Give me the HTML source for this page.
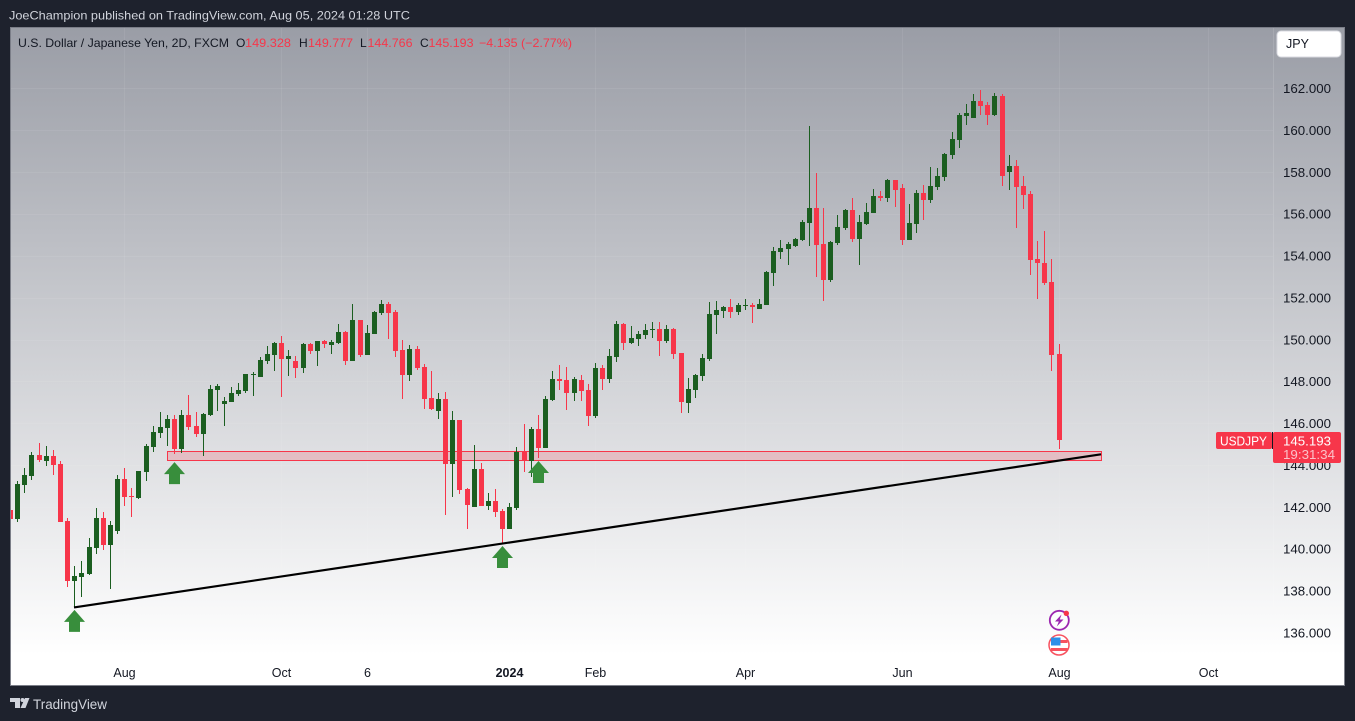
<!DOCTYPE html>
<html lang="en">
<head>
<meta charset="utf-8">
<title>USDJPY chart</title>
<style>
html,body{margin:0;padding:0;background:#1e222d;width:1355px;height:721px;overflow:hidden}
svg{display:block;font-family:"Liberation Sans",sans-serif}
</style>
</head>
<body>
<svg id="chart" xmlns="http://www.w3.org/2000/svg" width="1355" height="721" viewBox="0 0 1355 721">
  <defs>
    <linearGradient id="bg" x1="0" y1="27" x2="0" y2="655" gradientUnits="userSpaceOnUse">
      <stop offset="0" stop-color="#9a9da6"/>
      <stop offset="1" stop-color="#ffffff"/>
    </linearGradient>
    <clipPath id="plot"><rect x="11" y="28" width="1262" height="640"/></clipPath>
  </defs>
  <rect x="0" y="0" width="1355" height="721" fill="#1e222d"/>
  <text x="9" y="19.5" font-size="12" fill="#d1d4dc" textLength="401" lengthAdjust="spacingAndGlyphs">JoeChampion published on TradingView.com, Aug 05, 2024 01:28 UTC</text>
  <rect x="10.5" y="27.5" width="1334" height="658" fill="url(#bg)" stroke="#7b7e88" stroke-width="1"/>
  <g id="grid"></g>
  <line x1="1273.5" y1="28" x2="1273.5" y2="655" stroke="#ffffff" stroke-opacity="0.12"/>
  <g id="zoneLayer" clip-path="url(#plot)"></g>
  <g id="candles" clip-path="url(#plot)"></g>
  <g id="drawings"></g>
  <g id="priceAxis"></g>
  <g id="timeAxis"></g>

  <g font-size="12" fill="#131722">
    <text x="18" y="47" textLength="211" lengthAdjust="spacingAndGlyphs">U.S. Dollar / Japanese Yen, 2D, FXCM</text>
    <text x="236" y="47">O</text>
    <text x="245" y="47" fill="#f7364a" textLength="46" lengthAdjust="spacingAndGlyphs">149.328</text>
    <text x="299" y="47">H</text>
    <text x="308" y="47" fill="#f7364a" textLength="45" lengthAdjust="spacingAndGlyphs">149.777</text>
    <text x="360" y="47">L</text>
    <text x="367.500" y="47" fill="#f7364a" textLength="45" lengthAdjust="spacingAndGlyphs">144.766</text>
    <text x="420" y="47">C</text>
    <text x="428.500" y="47" fill="#f7364a" textLength="45" lengthAdjust="spacingAndGlyphs">145.193</text>
    <text x="479" y="47" fill="#f7364a" textLength="93" lengthAdjust="spacingAndGlyphs">−4.135 (−2.77%)</text>
  </g>

  <g>
    <rect x="1277" y="31" width="64" height="26" rx="4" fill="#ffffff" stroke="#d8dae0" stroke-width="1"/>
    <text x="1286" y="48" font-size="12.500" fill="#131722">JPY</text>
  </g>

  <g>
    <rect x="1216" y="432" width="56" height="17" rx="2" fill="#f7364a"/>
    <text x="1220" y="445.500" font-size="12.500" fill="#ffffff" textLength="47" lengthAdjust="spacingAndGlyphs">USDJPY</text>
    <rect x="1272" y="432" width="1" height="17" fill="#131722"/>
    <rect x="1273" y="432" width="68" height="31" rx="2" fill="#f7364a"/>
    <text x="1283" y="445.500" font-size="13" fill="#ffffff" textLength="48" lengthAdjust="spacingAndGlyphs">145.193</text>
    <text x="1283" y="459" font-size="13" fill="#fbc1c8" textLength="52" lengthAdjust="spacingAndGlyphs">19:31:34</text>
  </g>

  <g>
    <circle cx="1059.300" cy="620.300" r="9.500" fill="#fdfdfd" stroke="#9c27b0" stroke-width="1.800"/>
    <polygon points="1061.500,614.500 1055,621.500 1058.800,621.500 1056.800,626.500 1063.500,619.500 1059.800,619.500" fill="#9c27b0"/>
    <circle cx="1066.300" cy="613.300" r="2.700" fill="#f7364a"/>
  </g>
  <g>
    <circle cx="1059" cy="645" r="10" fill="#ffffff" stroke="#f7525f" stroke-width="1.500"/>
    <rect x="1051" y="637.500" width="9.500" height="8" fill="#2d8fe8"/>
    <rect x="1060.500" y="640" width="7" height="3" fill="#f7525f"/>
    <rect x="1051" y="648" width="16.500" height="3" fill="#f7525f"/>
  </g>

  <g>
    <polygon points="10,698 20,698 20,708 15,708 15,702 10,702" fill="#d1d4dc"/>
    <circle cx="22.500" cy="700" r="2" fill="#d1d4dc"/>
    <polygon points="25,698 29.500,698 25.500,708 20.500,708" fill="#d1d4dc"/>
    <text x="33" y="709" font-size="13.500" fill="#d1d4dc" textLength="74" lengthAdjust="spacingAndGlyphs">TradingView</text>
  </g>
</svg>
<script>
const opens=[141.86,141.43,143.06,143.49,144.49,144.20,144.44,144.06,141.34,138.47,138.66,138.81,140.06,141.48,140.19,140.86,143.34,142.53,142.43,143.68,144.87,145.54,145.78,146.21,144.77,146.40,145.87,145.49,146.40,147.59,146.92,147.02,147.40,147.54,148.31,148.21,148.98,149.26,
149.84,149.07,148.98,148.65,149.79,149.46,149.93,149.74,149.84,150.36,148.98,150.94,149.27,150.27,151.27,151.70,151.32,149.50,148.31,149.55,148.69,147.21,146.59,147.16,144.06,146.16,142.87,142.01,143.82,142.06,142.29,141.82,140.96,141.96,144.68,144.20,145.73,144.82,
147.12,148.12,148.07,147.45,148.07,147.60,146.35,148.65,148.12,149.17,150.75,149.84,150.03,150.22,150.46,150.51,149.94,150.51,149.36,146.98,147.60,148.27,149.08,151.18,151.37,151.56,151.32,151.61,151.66,151.46,151.66,153.18,154.19,154.33,154.47,154.76,155.57,156.29,
154.57,152.85,154.62,155.33,156.19,154.81,155.52,156.05,156.86,156.77,157.62,157.24,154.76,155.52,157.00,156.67,157.29,157.77,158.82,159.53,160.68,160.59,161.40,161.21,160.73,161.64,158.01,158.29,157.34,156.96,153.85,153.66,152.75,149.328];
const highs=[142.26,143.23,143.87,144.62,145.05,144.92,144.73,144.19,141.46,139.19,139.43,140.52,141.94,141.77,141.34,143.52,143.87,142.91,143.74,145.00,145.87,146.54,146.38,146.38,146.64,147.35,146.54,146.49,147.83,147.88,147.26,147.74,147.93,148.36,148.45,149.17,149.69,149.88,
150.17,149.50,149.22,149.84,149.84,149.93,149.98,149.98,150.75,150.41,151.70,150.94,150.70,151.37,151.89,151.80,151.41,149.98,149.74,149.69,148.84,148.50,147.45,147.50,146.59,146.16,142.91,144.97,144.11,142.68,142.87,141.91,142.20,144.87,145.97,145.83,146.40,147.31,
148.50,148.79,148.69,148.22,148.31,147.88,148.89,148.79,149.55,150.89,150.80,150.65,150.41,150.75,150.84,150.84,150.70,150.56,149.36,148.17,148.36,149.32,151.80,151.85,151.61,151.94,151.75,151.94,151.75,151.94,153.28,154.43,154.76,154.66,154.85,155.71,160.20,157.96,
156.29,154.71,155.95,156.24,156.76,155.95,156.53,157.19,157.10,157.67,157.62,157.43,156.48,157.15,157.39,158.25,158.20,158.91,159.92,160.82,161.25,161.73,161.92,161.35,161.78,161.73,158.82,158.58,157.82,157.10,154.71,155.19,153.85,149.777];
const lows=[141.26,141.30,142.69,143.29,144.17,143.98,143.53,141.28,138.20,137.21,137.72,138.77,139.78,139.97,138.10,140.73,142.07,141.54,142.40,143.25,144.65,145.30,144.92,144.55,144.58,145.68,145.35,144.44,146.35,146.59,145.87,147.02,147.31,147.45,147.31,148.21,148.83,148.50,
147.26,148.26,148.17,148.41,149.31,148.74,149.60,149.31,149.79,148.79,148.98,149.17,149.27,150.27,151.18,150.03,149.17,147.16,148.02,148.55,146.69,146.64,146.21,141.63,142.48,142.63,140.96,142.01,142.06,141.86,141.53,140.24,140.96,141.86,143.68,143.44,144.35,144.82,
147.07,147.60,146.64,147.07,147.07,145.88,146.26,147.60,147.93,148.93,149.51,149.79,149.70,150.03,150.08,149.22,149.84,149.08,146.50,146.50,147.21,148.03,148.98,150.27,151.03,151.03,151.18,151.42,150.80,151.46,151.66,152.56,153.85,153.57,154.42,154.71,154.47,152.99,
151.85,152.75,154.52,155.24,154.66,153.57,155.48,156.05,156.62,156.57,156.34,154.52,154.76,155.09,155.71,156.53,157.15,157.58,158.63,159.15,160.25,160.59,160.73,160.25,160.68,157.34,157.15,155.33,156.24,153.09,151.94,152.61,148.50,144.766];
const closes=[141.43,143.10,143.53,144.49,144.25,144.44,144.01,141.30,138.47,138.71,138.85,140.09,141.48,140.19,141.15,143.34,142.50,142.48,143.72,144.92,145.59,145.83,146.21,144.77,146.40,145.83,145.49,146.45,147.64,147.78,147.07,147.45,147.59,148.36,148.36,149.02,149.31,149.84,
149.07,149.22,148.65,149.79,149.46,149.93,149.79,149.89,150.36,148.98,150.94,149.27,150.32,151.32,151.70,151.27,149.46,148.31,149.55,148.65,147.16,146.69,147.16,144.06,146.16,142.82,142.10,143.82,142.06,142.29,141.77,140.96,142.01,144.63,144.20,145.73,144.82,147.16,
148.12,148.03,147.45,148.12,147.55,146.35,148.65,148.12,149.22,150.75,149.84,150.08,150.27,150.46,150.51,149.94,150.51,149.32,147.02,147.64,148.31,149.12,151.23,151.42,151.56,151.32,151.66,151.66,151.56,151.70,153.23,154.23,154.38,154.57,154.81,155.62,156.29,154.52,
152.85,154.66,155.38,156.19,154.81,155.62,156.10,156.86,156.77,157.62,157.15,154.76,155.57,157.00,156.67,157.34,157.82,158.87,159.58,160.73,160.82,161.40,161.16,160.73,161.64,157.82,158.29,157.29,156.91,153.80,153.66,152.71,149.27,145.193];
const priceTicks=[136,138,140,142,144,146,148,150,152,154,156,158,160,162];
const timeLabels=["Aug","Oct","6","2024","Feb","Apr","Jun","Aug","Oct"];
const timeLabelBars=[16,38,50,70,82,103,125,147,168];
const trendBars=[9,153];
const trendPrices=[137.21,144.52];
const zoneBars=[22,153];
const zonePrices=[144.68,144.22];
const arrowBars=[9,23,69,74];
const arrowPrices=[137.09,144.15,140.14,144.20];

const NS="http://www.w3.org/2000/svg";
const RED="#f7364a",GREEN="#1b5e20";
const yOf=p=>88.3+(162-p)*20.94;
const xOf=i=>Math.floor(10.55+i*7.133);
function make(tag,parent,attrs){
  const el=document.createElementNS(NS,tag);
  for(const k in attrs)el.setAttribute(k,attrs[k]);
  parent.appendChild(el);
  return el;
}
const grid=document.getElementById("grid");
priceTicks.forEach(p=>{
  const y=Math.round(yOf(p))+0.5;
  const el=make("line",grid,{x1:11,x2:1273,y1:y,y2:y,stroke:"#ffffff","stroke-opacity":0.07});
  
  
});
timeLabelBars.forEach(b=>{
  const x=xOf(b)+0.5;
  const el=make("line",grid,{x1:x,x2:x,y1:28,y2:655,stroke:"#ffffff","stroke-opacity":0.07});
  
  
});

const zoneLayer=document.getElementById("zoneLayer");
const zone=make("rect",zoneLayer,{x:xOf(zoneBars[0])+0.5,y:Math.round(yOf(zonePrices[0]))+0.5,width:xOf(zoneBars[1])-xOf(zoneBars[0]),height:Math.floor(yOf(zonePrices[1])-yOf(zonePrices[0])),fill:"#f7364a","fill-opacity":0.2,stroke:"#f7364a","stroke-width":1});



const candles=document.getElementById("candles");
opens.forEach((o,i)=>{
  const c=closes[i],color=c>=o?GREEN:RED,x=xOf(i);
  const wt=Math.round(yOf(highs[i])),wb=Math.round(yOf(lows[i]));
  const wick=make("rect",candles,{x:x,y:wt,width:1,height:Math.max(1,wb-wt),fill:color});
  
  
  const top=Math.round(yOf(Math.max(o,c))),bot=Math.round(yOf(Math.min(o,c)));
  const body=make("rect",candles,{x:x-2,y:top,width:5,height:Math.max(1,bot-top),fill:color});
  
  
});

const drawings=document.getElementById("drawings");
const trend=make("line",drawings,{x1:xOf(trendBars[0]),y1:yOf(trendPrices[0]),x2:xOf(trendBars[1]),y2:yOf(trendPrices[1]),stroke:"#000000","stroke-width":2.2});


arrowBars.forEach((b,i)=>{
  const x=xOf(b)+0.5,t=yOf(arrowPrices[i]);
  const pts=[[x,t],[x+10.5,t+12],[x+5.5,t+12],[x+5.5,t+22],[x-5.5,t+22],[x-5.5,t+12],[x-10.5,t+12]].map(q=>q.join(",")).join(" ");
  const a=make("polygon",drawings,{points:pts,fill:"#388e3c"});
  
  
});

const priceAxis=document.getElementById("priceAxis");
priceTicks.forEach(p=>{
  const t=make("text",priceAxis,{x:1283,y:yOf(p)+4.7,"font-size":13,fill:"#131722",textLength:48,lengthAdjust:"spacingAndGlyphs"});
  
  
  t.textContent=p.toFixed(3);
});
const timeAxis=document.getElementById("timeAxis");
timeLabels.forEach((s,i)=>{
  const isYear=s==="2024";
  const t=make("text",timeAxis,{x:xOf(timeLabelBars[i])+0.5,y:677,"font-size":12.5,fill:"#131722","text-anchor":"middle","font-weight":isYear?"bold":"normal"});
  
  
  t.textContent=s;
});
</script>
</body>
</html>
